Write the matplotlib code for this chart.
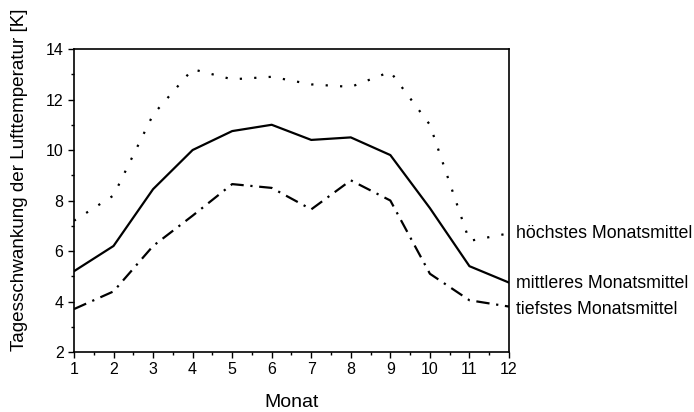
import matplotlib
matplotlib.use("Agg")
import matplotlib.pyplot as plt
from matplotlib.ticker import MultipleLocator

plt.rcParams['font.family'] = ['Liberation Sans', 'DejaVu Sans']

monate = list(range(1, 13))
hoechstes = [7.2, 8.2, 11.4, 13.2, 12.8, 12.9, 12.6, 12.5, 13.1, 11.0, 6.4, 6.7]
mittleres = [5.2, 6.2, 8.45, 10.0, 10.75, 11.0, 10.4, 10.5, 9.8, 7.7, 5.4, 4.75]
tiefstes = [3.7, 4.4, 6.2, 7.4, 8.65, 8.5, 7.65, 8.8, 8.0, 5.1, 4.05, 3.8]

reihen = [
    (hoechstes, "höchstes Monatsmittel", (0, (1, 5.5)), 0),
    (mittleres, "mittleres Monatsmittel", "-", -1),
    (tiefstes, "tiefstes Monatsmittel", (0, (6, 3, 1, 3)), -2),
]

fig = plt.figure(figsize=(6.94, 4.12), dpi=100)
ax = fig.add_axes([0.1066, 0.1456, 0.6268, 0.7354])

for werte, name, stil, dy in reihen:
    ax.plot(monate, werte, color="black", lw=1.6, linestyle=stil)
    ax.annotate(name, xy=(12, werte[-1]), xytext=(5, dy), textcoords="offset points",
                va="center", ha="left", fontsize=12.8, annotation_clip=False)

ax.set_xlim(1, 12)
ax.set_ylim(2, 14)
ax.set_xticks(monate)
ax.yaxis.set_major_locator(MultipleLocator(2))
ax.yaxis.set_minor_locator(MultipleLocator(1))
ax.xaxis.set_minor_locator(MultipleLocator(0.5))
ax.tick_params(which="major", direction="out", length=4, width=1, labelsize=11.5)
ax.tick_params(which="minor", direction="out", length=2, width=1)
for s in ax.spines.values():
    s.set_linewidth(1.2)

ax.set_xlabel("Monat", fontsize=14)
ax.set_ylabel("Tagesschwankung der Lufttemperatur [K]", fontsize=13.6)
ax.xaxis.set_label_coords(0.5, -0.14)
ax.yaxis.set_label_coords(-0.105, 0.57)

fig.savefig("out.png", dpi=100)
